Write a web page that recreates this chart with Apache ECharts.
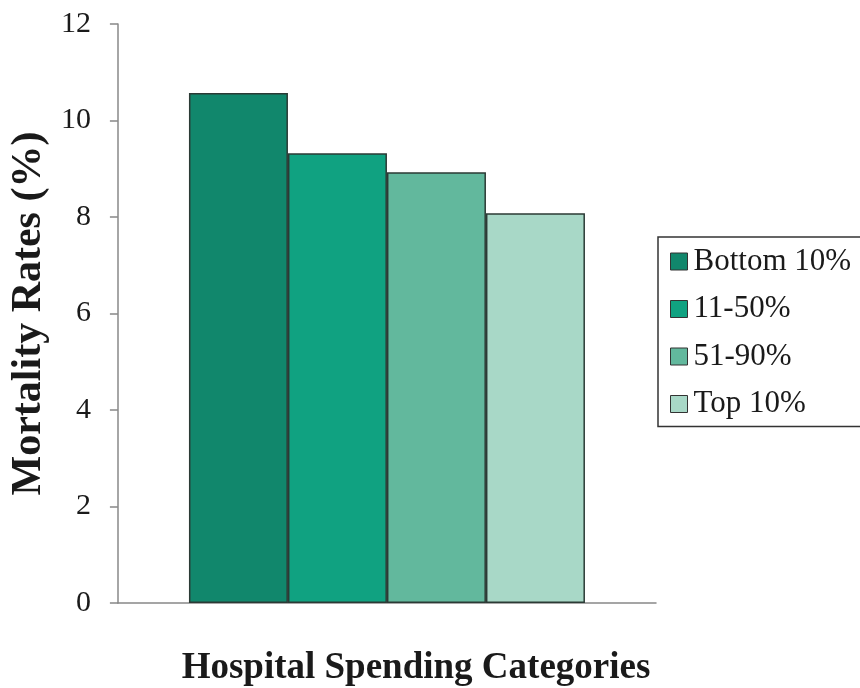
<!DOCTYPE html>
<html>
<head>
<meta charset="utf-8">
<script src="https://cdn.jsdelivr.net/npm/echarts@6/dist/echarts.min.js"></script>
<style>html,body{margin:0;padding:0;background:#fff;}#c{width:860px;height:688px;}</style>
</head>
<body>
<div id="c"></div>
<script>
const categories = ['Hospital Spending'];
const seriesNames = ['Bottom 10%', '11-50%', '51-90%', 'Top 10%'];
const seriesValues = [10.57, 9.32, 8.93, 8.08];
const yTicks = [0, 2, 4, 6, 8, 10, 12];
const colors = ['#11876c', '#10a281', '#62b89d', '#a8d8c7'];
const FONT = '"Liberation Serif", "Times New Roman", serif';

const chart = echarts.init(document.getElementById('c'));
chart.setOption({
  animation: false,
  backgroundColor: '#ffffff',
  grid: { left: 114, right: 204, top: 24, bottom: 85, containLabel: false },
  legend: {
    orient: 'vertical',
    left: 658, top: 237,
    data: seriesNames,
    icon: 'rect',
    itemWidth: 17, itemHeight: 17,
    itemGap: 16.5,
    padding: [9, 60, 7, 12],
    borderColor: '#333', borderWidth: 1.5,
    itemStyle: { borderColor: '#333', borderWidth: 1 },
    textStyle: { fontFamily: FONT, fontSize: 31, color: '#1a1a1a', lineHeight: 31, padding: [0, 0, 0, 1] }
  },
  xAxis: {
    type: 'category',
    data: categories,
    axisLine: { show: true, lineStyle: { color: '#888', width: 1.5 } },
    axisTick: { show: false },
    axisLabel: { show: false }
  },
  yAxis: {
    type: 'value',
    min: yTicks[0], max: yTicks[yTicks.length - 1], interval: 2,
    name: 'Mortality Rates (%)',
    nameLocation: 'middle',
    nameGap: 58,
    nameTextStyle: { fontFamily: FONT, fontSize: 42, fontWeight: 'bold', color: '#1a1a1a' },
    axisLine: { show: true, lineStyle: { color: '#888', width: 1.5 } },
    axisTick: { show: true, inside: false, length: 8, lineStyle: { color: '#888', width: 1.5 } },
    axisLabel: { fontFamily: FONT, fontSize: 30, color: '#1a1a1a', margin: 27 },
    splitLine: { show: false }
  },
  graphic: [{
    type: 'text',
    style: {
      x: 416, y: 668,
      text: 'Hospital Spending Categories',
      textAlign: 'center', textVerticalAlign: 'middle',
      font: 'bold 37px ' + FONT,
      fill: '#1a1a1a'
    }
  }],
  series: seriesNames.map((n, i) => ({
    name: n,
    type: 'bar',
    data: [seriesValues[i]],
    barWidth: 99,
    barGap: '0%',
    itemStyle: { color: colors[i], borderColor: '#2b3a35', borderWidth: 1.5 }
  }))
});
</script>
</body>
</html>
